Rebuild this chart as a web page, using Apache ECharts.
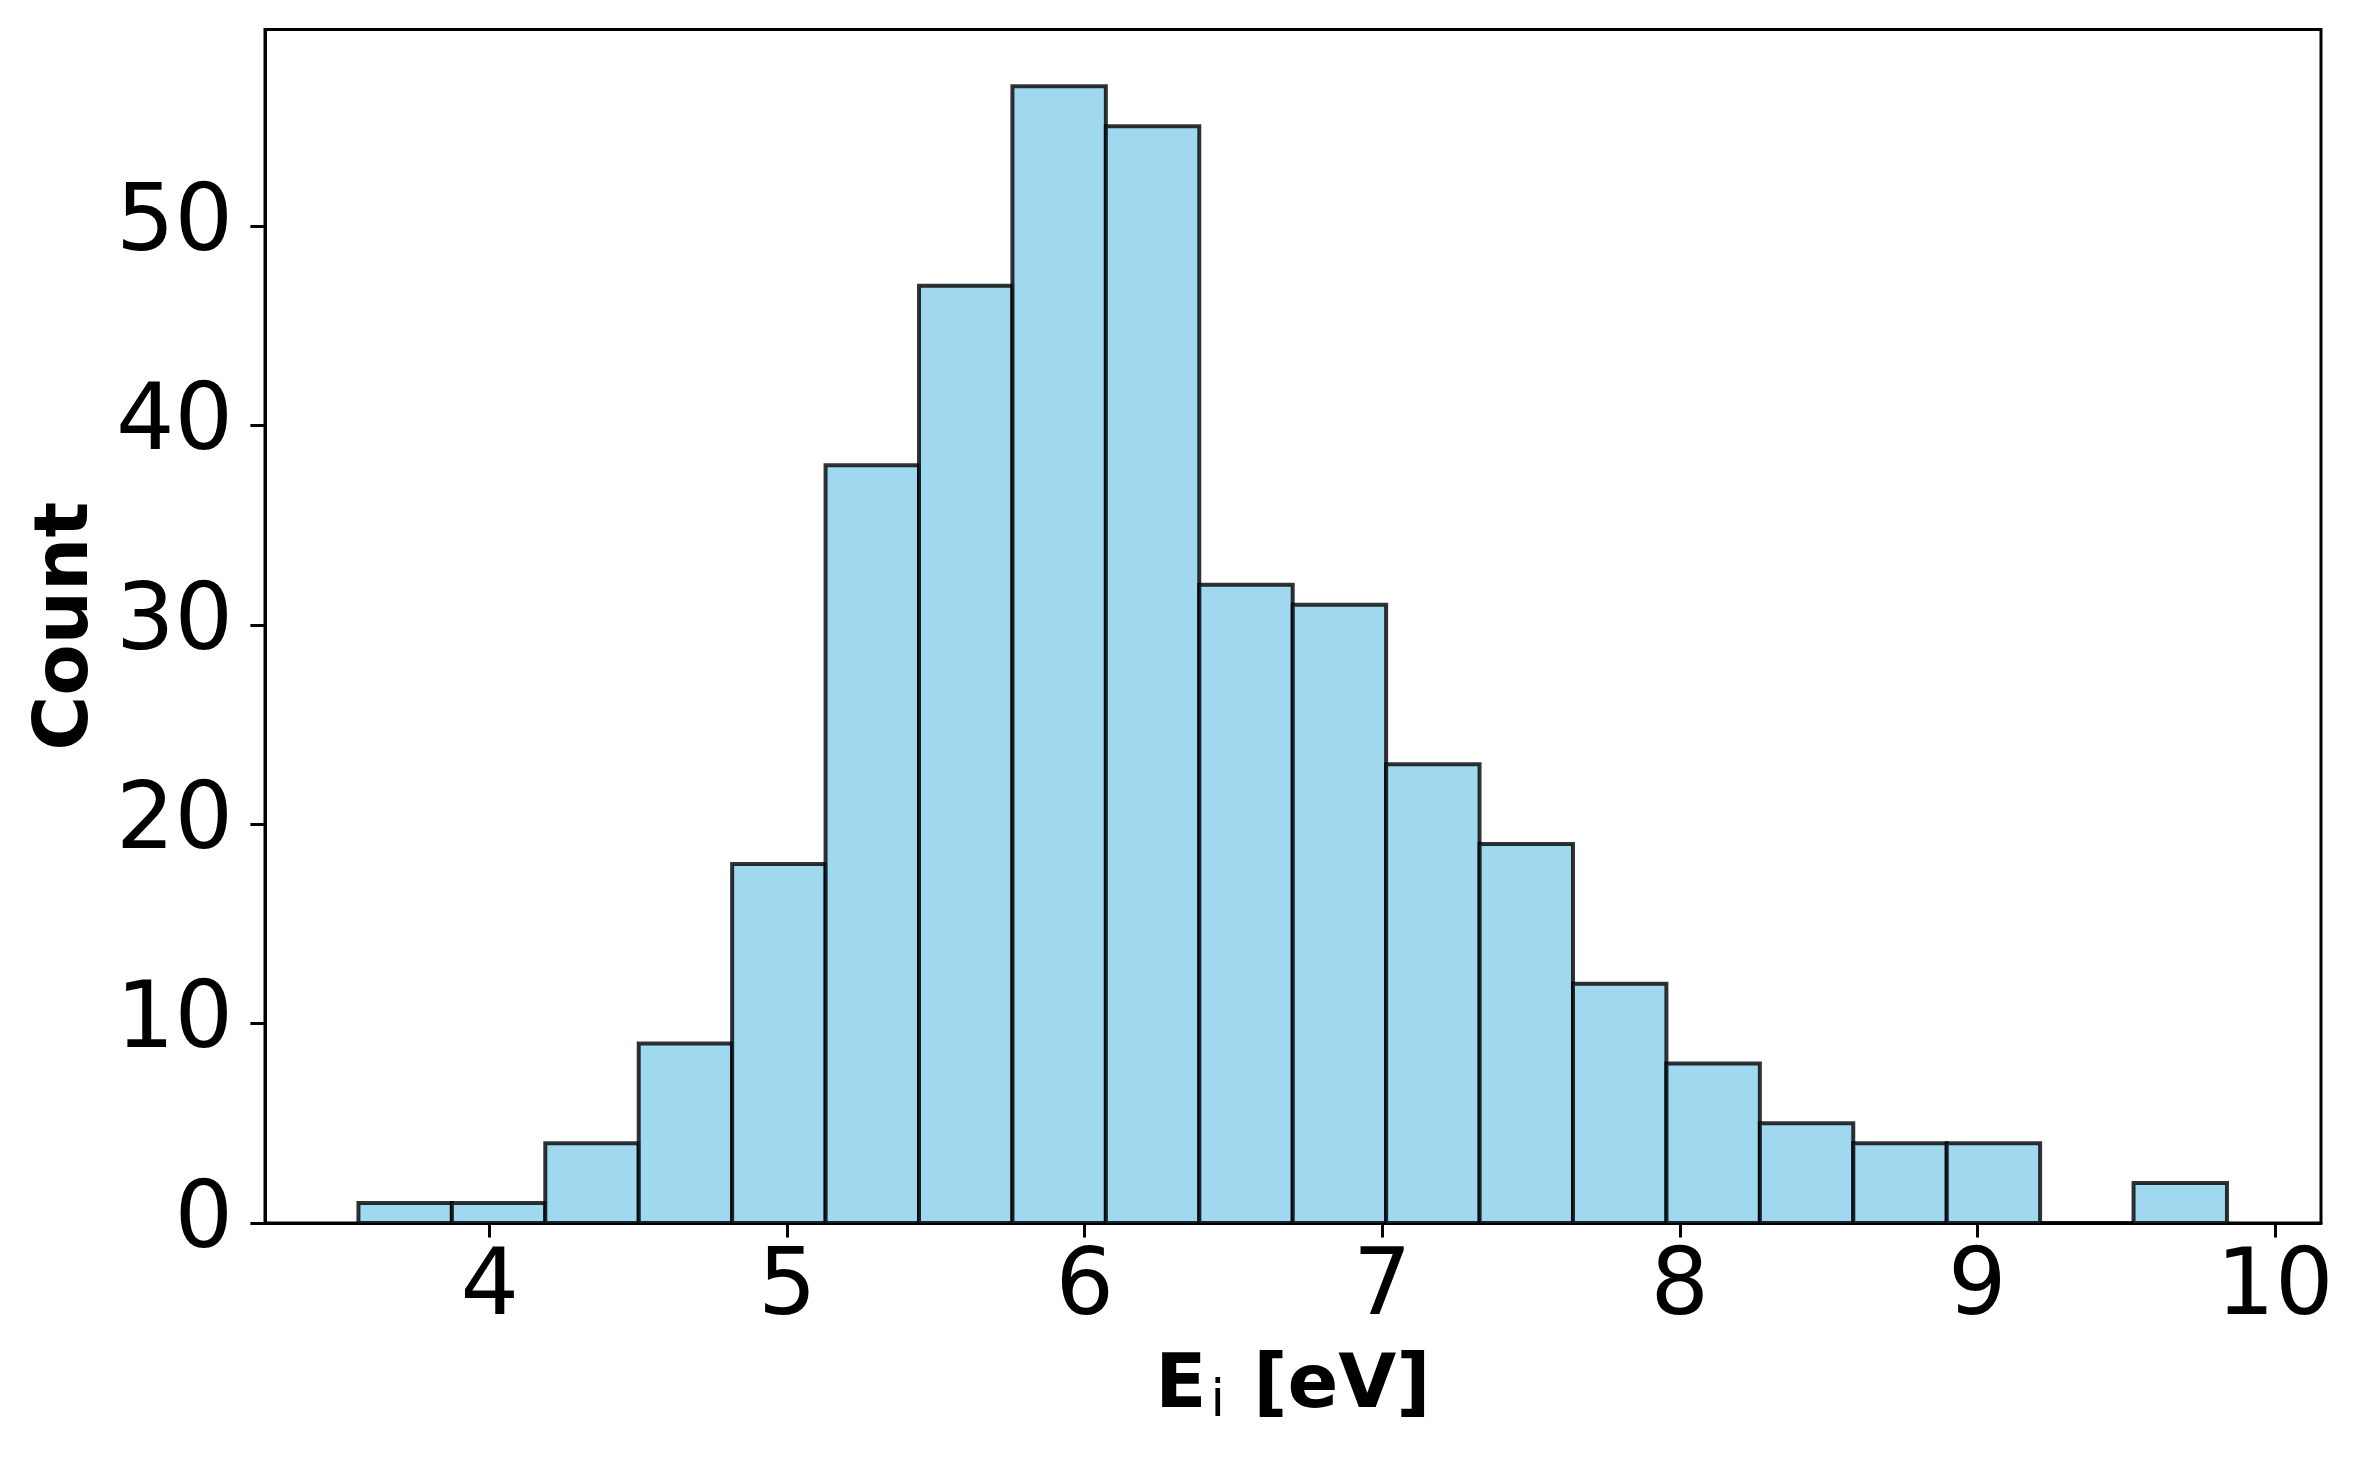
<!DOCTYPE html>
<html>
<head>
<meta charset="utf-8">
<script src="https://cdn.jsdelivr.net/npm/echarts@6/dist/echarts.min.js"></script>
<style>
html,body{margin:0;padding:0;background:#fff;}
#chart{width:2362px;height:1462px;}
</style>
</head>
<body>
<div id="chart"></div>
<script>
// Histogram bin edges (eV)
const binEdges = [3.559, 3.873, 4.187, 4.501, 4.815, 5.129, 5.443, 5.757, 6.071, 6.385, 6.699,
                  7.013, 7.327, 7.641, 7.955, 8.269, 8.583, 8.897, 9.211, 9.525, 9.839];
// Counts per bin
const counts = [1, 1, 4, 9, 18, 38, 47, 57, 55, 32, 31, 23, 19, 12, 8, 5, 4, 4, 0, 2];
// Tick labels
const xTicks = [4, 5, 6, 7, 8, 9, 10];
const yTicks = [0, 10, 20, 30, 40, 50];
// Axis ranges
const xRange = [3.245, 10.155];
const yRange = [0, 59.85];

const data = counts.map((c, i) => [binEdges[i], binEdges[i + 1], c]);

const chart = echarts.init(document.getElementById('chart'), null, {renderer: 'canvas'});
const FONT = 'DejaVu Sans';

chart.setOption({
  backgroundColor: '#ffffff',
  animation: false,
  grid: {
    left: 265, top: 29.5, right: 41, bottom: 239,
    show: true, borderColor: '#000', borderWidth: 3, backgroundColor: 'transparent'
  },
  xAxis: {
    type: 'value',
    min: xRange[0], max: xRange[1],
    splitLine: {show: false},
    axisLine: {show: true, onZero: false, lineStyle: {color: '#000', width: 3}},
    axisTick: {show: true, inside: false, length: 14.6, lineStyle: {color: '#000', width: 3}, customValues: xTicks},
    axisLabel: {show: true, customValues: xTicks, margin: 21, color: '#000', fontFamily: FONT, fontSize: 92},
    name: '{b|E}{s|i}{b| [eV]}',
    nameLocation: 'middle',
    nameGap: 125,
    nameTextStyle: {
      rich: {
        b: {fontFamily: FONT, fontWeight: 'bold', fontSize: 75, lineHeight: 80, color: '#000'},
        s: {fontFamily: FONT, fontWeight: 'normal', fontSize: 52, lineHeight: 28, verticalAlign: 'bottom', color: '#000', padding: [0, 2, 0, 4]}
      }
    }
  },
  yAxis: {
    type: 'value',
    min: yRange[0], max: yRange[1],
    splitLine: {show: false},
    axisLine: {show: true, lineStyle: {color: '#000', width: 3}},
    axisTick: {show: true, inside: false, length: 14.6, lineStyle: {color: '#000', width: 3}, customValues: yTicks},
    axisLabel: {show: true, customValues: yTicks, margin: 32, color: '#000', fontFamily: FONT, fontSize: 92},
    name: 'Count',
    nameLocation: 'middle',
    nameGap: 160,
    nameTextStyle: {fontFamily: FONT, fontWeight: 'bold', fontSize: 75, color: '#000'}
  },
  series: [{
    type: 'custom',
    data: data,
    encode: {x: [0, 1], y: 2},
    renderItem: function (params, api) {
      const p0 = api.coord([api.value(0), api.value(2)]);
      const p1 = api.coord([api.value(1), 0]);
      return {
        type: 'rect',
        shape: {x: p0[0], y: p0[1], width: p1[0] - p0[0], height: p1[1] - p0[1]},
        style: {fill: 'rgba(135,206,235,0.8)', stroke: 'rgba(0,0,0,0.8)', lineWidth: 4}
      };
    }
  }]
});
</script>
</body>
</html>
